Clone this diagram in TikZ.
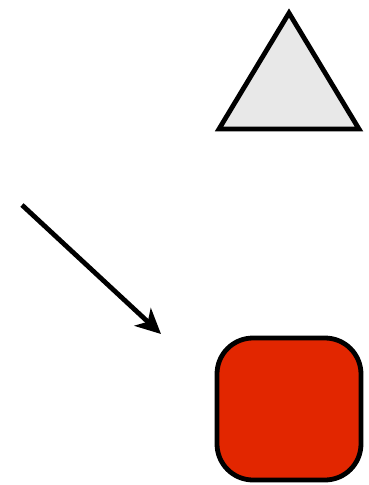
\documentclass[tikz,border=0pt]{standalone}
\usetikzlibrary{arrows.meta}
\definecolor{trifill}{HTML}{E8E8E8}
\definecolor{boxred}{HTML}{E22600}
\tikzset{
  shapeline/.style={draw=black, line width=4.8pt, line join=miter},
  arrowline/.style={draw=black, line width=4.8pt, -{Stealth[length=25pt,width=24pt,inset=7pt]}}
}
\begin{document}
\begin{tikzpicture}[x=1pt,y=-1pt]
\useasboundingbox (0,0) rectangle (368,485);
\draw[shapeline, fill=trifill] (289,13) -- (359,129) -- (219,129) -- cycle;
\coordinate (a1) at (22,205);
\coordinate (a2) at (161,334);
\draw[arrowline] (a1) -- (a2);
\draw[shapeline, fill=boxred, rounded corners=36pt] (217,338) rectangle (361,480);
\end{tikzpicture}
\end{document}
